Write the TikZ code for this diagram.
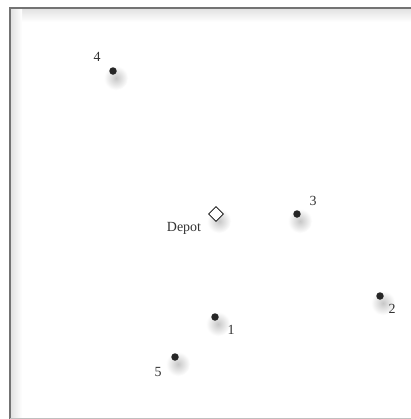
\documentclass[tikz,border=0pt]{standalone}
\usepackage{fontspec}
\setmainfont{Liberation Serif}
\usetikzlibrary{shapes.geometric}
\begin{document}
\begin{tikzpicture}[x=1bp,y=-1bp,
  site/.style={circle,fill=black!85,inner sep=0pt,minimum size=7.5bp},
  depotbox/.style={diamond,draw=black,thick,fill=white,inner sep=0pt,minimum size=15bp},
  lbl/.style={font=\fontsize{14}{16}\selectfont,inner sep=0pt,text=black!80}]
\useasboundingbox (0,0) rectangle (411,419);
\fill[white] (0,0) rectangle (411,419);
% frame inner shadows
\shade[top color=black!12,bottom color=white] (10,8) rectangle (411,22);
\shade[left color=black!12,right color=white] (10,8) rectangle (22,418);
\draw[black!55,line width=1.2bp] (10,419) -- (10,8) -- (411,8);
\draw[black!25,line width=1bp] (10,418) -- (411,418);
% shadows
\foreach \p in {(113,71),(216,214),(297,214),(380,296),(215,317),(175,357)}{
  \shade[inner color=black!22,outer color=white] \p ++(3,7) circle (12bp);
}
\node[site] (n4) at (113,71) {};
\node[lbl] (l4) at (97,57) {4};
\node[depotbox] (d) at (216,214) {};
\node[lbl] (ld) at (184,228) {Depot};
\node[site] (n3) at (297,214) {};
\node[lbl] (l3) at (313,201) {3};
\node[site] (n2) at (380,296) {};
\node[lbl] (l2) at (392,309) {2};
\node[site] (n1) at (215,317) {};
\node[lbl] (l1) at (231,330) {1};
\node[site] (n5) at (175,357) {};
\node[lbl] (l5) at (158,372) {5};
\end{tikzpicture}
\end{document}
